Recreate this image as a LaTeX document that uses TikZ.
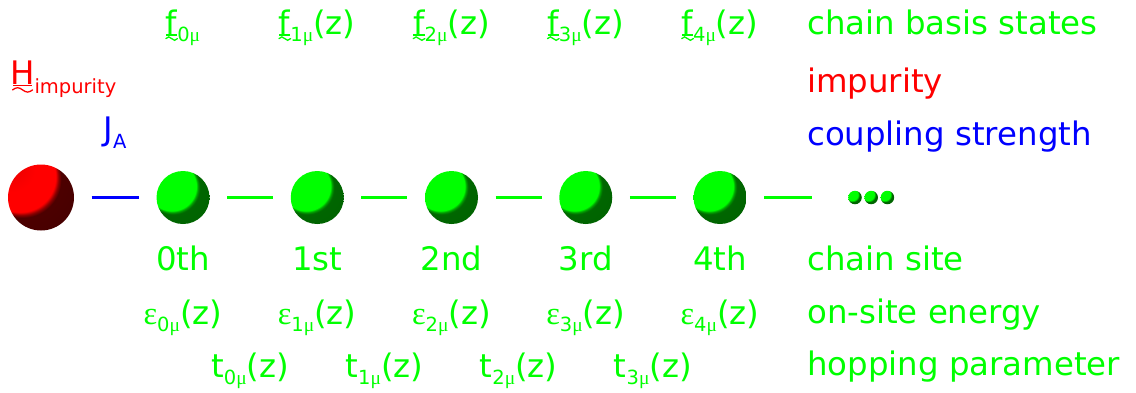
\documentclass[tikz,border=0pt]{standalone}
\usepackage{fontspec}
\setmainfont{DejaVu Sans}
\newfontfamily\serifgr{Liberation Serif}
\definecolor{cg}{RGB}{0,255,0}
\definecolor{cr}{RGB}{255,0,0}
\definecolor{cb}{RGB}{0,0,255}
\pgfdeclareradialshading{redballsh}{\pgfpoint{-34.6bp}{34.6bp}}{color(0bp)=(cr!85!black);color(18bp)=(cr);color(27bp)=(cr);color(28.3bp)=(cr!55!black);color(29.5bp)=(cr!30!black);color(50bp)=(cr!25!black)}
\pgfdeclareradialshading{greenballsh}{\pgfpoint{-19.7bp}{19.7bp}}{color(0bp)=(cg);color(23bp)=(cg);color(24.3bp)=(cg!60!black);color(25.6bp)=(cg!40!black);color(50bp)=(cg!37!black)}
\newcommand\mus{{\serifgr μ}}
\newcommand\eps{{\serifgr ε}}
\newcommand\sub[2][7.5pt]{\raisebox{-#1}{\fontsize{19.5}{20}\selectfont #2}}
\begin{document}
\begin{tikzpicture}[x=1pt,y=-1pt,
  lbl/.style={inner sep=0pt, anchor=base, font=\fontsize{32.4}{38}\selectfont},
  gtxt/.style={lbl, text=cg},
  rtxt/.style={lbl, text=cr},
  btxt/.style={lbl, text=cb},
  redball/.style={circle, inner sep=0pt, minimum size=66pt, shading=redballsh},
  greenball/.style={circle, inner sep=0pt, minimum size=53pt, shading=greenballsh},
  dotball/.style={circle, inner sep=0pt, minimum size=13.5pt, shading=greenballsh},
  bond/.style={line width=3pt, shorten <=17.5pt, shorten >=17.5pt},
  bline/.style={bond, draw=cb},
  gline/.style={bond, draw=cg},
  underbar/.style={line width=1.6pt},
  wave/.style={line width=1.3pt, line cap=round}]
\useasboundingbox (0,0) rectangle (1136,392);
% spheres
\node[redball] (imp) at (41,197.5) {};
\node[greenball] (s0) at (183,197.5) {};
\node[greenball] (s1) at (317.25,197.5) {};
\node[greenball] (s2) at (451.5,197.5) {};
\node[greenball] (s3) at (585.75,197.5) {};
\node[greenball] (s4) at (720,197.5) {};
\node[dotball] (d1) at (855,197.5) {};
\node[dotball] (d2) at (871.2,197.5) {};
\node[dotball] (d3) at (887.4,197.5) {};
\coordinate (tailend) at (812,197.5);
% bonds
\draw[bline] (imp) -- (s0);
\draw[gline] (s0) -- (s1);
\draw[gline] (s1) -- (s2);
\draw[gline] (s2) -- (s3);
\draw[gline] (s3) -- (s4);
\draw[gline, shorten >=0pt] (s4) -- (tailend);
% top row: chain basis states
\node[gtxt] (f0) at (183,34) {f\sub{0\mus}};
\node[gtxt] (f1) at (317.25,34) {f\sub{1\mus}(z)};
\node[gtxt] (f2) at (451.5,34) {f\sub{2\mus}(z)};
\node[gtxt] (f3) at (585.75,34) {f\sub{3\mus}(z)};
\node[gtxt] (f4) at (720,34) {f\sub{4\mus}(z)};
\foreach \n in {f0,f1,f2,f3,f4}{
  \draw[underbar, cg] ([shift={(0.4,1)}]\n.base west) -- ++(11.2,0);
  \draw[wave, cg] ([shift={(0.2,4.6)}]\n.base west) sin ++(2.9,-1.7) cos ++(2.9,1.7) sin ++(2.9,1.7) cos ++(2.9,-1.7);
}
% impurity hamiltonian and coupling
\node[rtxt, anchor=base west] (hi) at (10,84.5) {H\sub[8.5pt]{impurity}};
\draw[underbar, cr] ([shift={(3,1)}]hi.base west) -- ++(19,0);
\draw[wave, cr] ([shift={(2.6,5.4)}]hi.base west) sin ++(5,-2.2) cos ++(5,2.2) sin ++(5,2.2) cos ++(5,-2.2);
\node[btxt] (ja) at (115,140) {J\sub[8pt]{A}};
% chain site row
\node[gtxt] (n0) at (183,270) {0th};
\node[gtxt] (n1) at (317.25,270) {1st};
\node[gtxt] (n2) at (451.5,270) {2nd};
\node[gtxt] (n3) at (585.75,270) {3rd};
\node[gtxt] (n4) at (720,270) {4th};
% on-site energies
\node[gtxt] (e0) at (183,324) {\eps\sub{0\mus}(z)};
\node[gtxt] (e1) at (317.25,324) {\eps\sub{1\mus}(z)};
\node[gtxt] (e2) at (451.5,324) {\eps\sub{2\mus}(z)};
\node[gtxt] (e3) at (585.75,324) {\eps\sub{3\mus}(z)};
\node[gtxt] (e4) at (720,324) {\eps\sub{4\mus}(z)};
% hopping parameters
\node[gtxt] (t0) at (250.1,377) {t\sub{0\mus}(z)};
\node[gtxt] (t1) at (384.4,377) {t\sub{1\mus}(z)};
\node[gtxt] (t2) at (518.6,377) {t\sub{2\mus}(z)};
\node[gtxt] (t3) at (652.9,377) {t\sub{3\mus}(z)};
% legend column
\node[gtxt, anchor=base west] (lg1) at (807,34) {chain basis states};
\node[rtxt, anchor=base west] (lg2) at (807,92) {impurity};
\node[btxt, anchor=base west] (lg3) at (807,145) {coupling strength};
\node[gtxt, anchor=base west] (lg4) at (807,270) {chain site};
\node[gtxt, anchor=base west] (lg5) at (807,323) {on-site energy};
\node[gtxt, anchor=base west] (lg6) at (807,375) {hopping parameter};
\end{tikzpicture}
\end{document}
